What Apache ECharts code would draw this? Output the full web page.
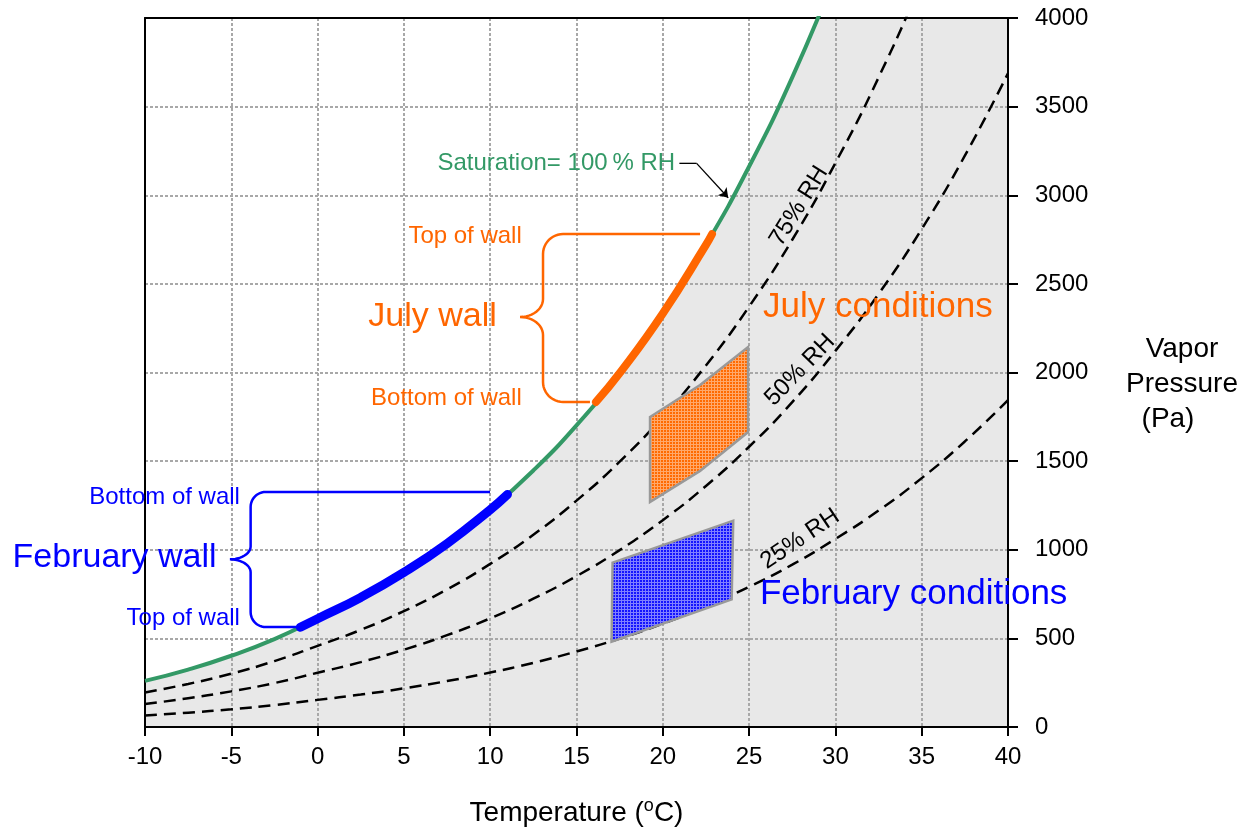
<!DOCTYPE html>
<html><head><meta charset="utf-8">
<script src="https://cdn.jsdelivr.net/npm/echarts@6/dist/echarts.min.js"></script>
<style>html,body{margin:0;padding:0;background:#fff}#c{width:1252px;height:833px}</style>
</head><body><div id="c"></div>
<script>
// ---------- data ----------
const temps      = [-10,-7.5,-5,-2.5,0,2.5,5,7.5,10,12.5,15,17.5,20,22.5,25,27.5,30,32.5,35,37.5,40];
const saturation = [260,324,402,496,611,731,872,1035,1226,1447,1702,1996,2333,2720,3162,3665,4243,4885,5617,6445,7375];
const rh75       = [195,243,301,372,458,548,654,776,920,1085,1277,1497,1750,2040,2372,2749,3182,3664,4213,4834,5531];
const rh50       = [130,162,201,248,306,366,436,518,613,724,851,998,1167,1360,1581,1833,2122,2443,2809,3223,3688];
const rh25       = [65,81,100,124,153,183,218,259,307,362,426,499,583,680,791,916,1061,1221,1404,1611,1844];

const julyWallT = [16.13,17.5,20,22.5,22.85];
const julyWallP = [1834,1996,2333,2720,2780];
const febWallT  = [-1,0,2.5,5,7.5,10,11];
const febWallP  = [563,611,731,872,1035,1226,1312];

const julyCondT = [19.26,22.16,24.94,24.94,22.16,19.26];
const julyCondP = [1749,1929,2144,1664,1445,1269];
const febCondT  = [17.09,24.08,23.99,17.03];
const febCondP  = [927,1164,720,481];

const xMin = -10, xMax = 40, xStep = 5;
const yMin = 0, yMax = 4000, yStep = 500;

const leaderT = [20.96,21.96,23.79];
const leaderP = [3180,3180,2986];

// brace anchors (data coords): top, bottom, mid (Pa); bar, tip, endTop, endBottom (°C)
const julyBrace = {top:2781, bottom:1834, mid:2313, bar:13.06, tip:11.73, endTop:22.16, endBottom:15.78};
const febBrace  = {top:1326, bottom:564,  mid:946,  bar:-3.88, tip:-5.08, endTop:9.99,  endBottom:-1.02};

const labelTexts = ['Saturation= 100\u2009% RH','Top of wall','July wall','Bottom of wall',
  'Bottom of wall','February wall','Top of wall','July conditions','February conditions',
  '75% RH','50% RH','25% RH'];
const labelT = [20.71,11.83,10.38,11.83,-4.5,-5.85,-4.5,25.81,25.63,27.89,27.95,27.95];
const labelP = [3180,2768,2313,1853,1294,957,613,2365,750,2939,2014,1060];

// ---------- styles ----------
const GREEN = '#339966', ORANGE = '#ff6600', BLUE = '#0000ff';
const FONT = '"Liberation Sans", Arial, Helvetica, sans-serif';
const labelStyle = [
  {color:GREEN,size:24,align:'right',rot:0},
  {color:ORANGE,size:24,align:'right',rot:0},
  {color:ORANGE,size:34,align:'right',rot:0},
  {color:ORANGE,size:24,align:'right',rot:0},
  {color:BLUE,size:24,align:'right',rot:0},
  {color:BLUE,size:34,align:'right',rot:0},
  {color:BLUE,size:24,align:'right',rot:0},
  {color:ORANGE,size:35,align:'left',rot:0},
  {color:BLUE,size:35,align:'left',rot:0},
  {color:'#000',size:24,align:'center',rot:58},
  {color:'#000',size:24,align:'center',rot:46},
  {color:'#000',size:24,align:'center',rot:34}
];

function hatch(bg, line){
  const c = document.createElement('canvas'); c.width = 3; c.height = 3;
  const g = c.getContext('2d');
  g.fillStyle = bg; g.fillRect(0,0,3,3);
  g.fillStyle = line; g.fillRect(0,0,3,1); g.fillRect(0,0,1,3);
  return c;
}
const orangeHatch = hatch('#ff6a00','#ffa86a');
const blueHatch = hatch('#1414ff','#8080ff');

const pairs = (xs, ys) => xs.map((x,i)=>[x, ys[i]]);

function polySeries(Ts, Ps, pattern){
  return {
    type:'custom', z:6, clip:false, silent:true,
    data:[[Ts[0],Ps[0]]],
    renderItem:(params, api)=>({
      type:'polygon',
      shape:{points: Ts.map((t,i)=>api.coord([t,Ps[i]]))},
      style:{fill:{image:pattern, repeat:'repeat'}, stroke:'#999999', lineWidth:2.5}
    })
  };
}

function arc(cx, cy, rx, ry, a0, a1, n){
  const out = [];
  for(let i=0;i<=n;i++){
    const a = (a0 + (a1-a0)*i/n) * Math.PI/180;
    out.push([cx + rx*Math.cos(a), cy + ry*Math.sin(a)]);
  }
  return out;
}
function braceSeries(b, color, r, r2){
  return {
    type:'custom', z:7, clip:false, silent:true,
    data:[[b.bar,b.mid]],
    renderItem:(params, api)=>{
      const [xeT, yT] = api.coord([b.endTop, b.top]);
      const [xeB, yB] = api.coord([b.endBottom, b.bottom]);
      const [xb, ym] = api.coord([b.bar, b.mid]);
      const xt = api.coord([b.tip, b.mid])[0];
      let pts = [[xeT, yT]];
      pts = pts.concat(arc(xb+r, yT+r, r, r, -90, -180, 12));
      pts = pts.concat(arc(xt, ym-r2, xb-xt, r2, 0, 90, 12));
      pts = pts.concat(arc(xt, ym+r2, xb-xt, r2, -90, 0, 12));
      pts = pts.concat(arc(xb+r, yB-r, r, r, 180, 90, 12));
      pts.push([xeB, yB]);
      return {type:'polyline', shape:{points:pts}, style:{stroke:color, lineWidth:2.5, fill:null}};
    }
  };
}

const chart = echarts.init(document.getElementById('c'), null, {renderer:'canvas'});
const option = {
  animation:false,
  backgroundColor:'#ffffff',
  textStyle:{fontFamily:FONT},
  grid:{left:145, right:244, top:18, bottom:106, containLabel:false},
  xAxis:[{
    type:'value', position:'bottom', min:xMin, max:xMax, interval:xStep,
    axisLine:{show:true, onZero:false, lineStyle:{color:'#000', width:2}},
    axisTick:{show:true, inside:false, length:9, lineStyle:{color:'#000', width:2}},
    axisLabel:{color:'#000', fontSize:24, margin:18, fontFamily:FONT, formatter:v=>String(v)},
    splitLine:{show:true, lineStyle:{color:'#a8a8a8', width:2, type:[3,2]}},
    name:'Temperature ({sup|o}C)', nameLocation:'middle', nameGap:70,
    nameTextStyle:{color:'#000', fontSize:28, fontFamily:FONT,
      rich:{sup:{fontSize:18, color:'#000', fontFamily:FONT, padding:[0,0,14,0]}}}
  },{
    type:'value', position:'top', min:xMin, max:xMax, interval:xStep,
    axisLine:{show:true, onZero:false, lineStyle:{color:'#000', width:2}},
    axisTick:{show:false}, axisLabel:{show:false}, splitLine:{show:false}
  }],
  yAxis:[{
    type:'value', position:'right', min:yMin, max:yMax, interval:yStep,
    axisLine:{show:true, onZero:false, lineStyle:{color:'#000', width:2}},
    axisTick:{show:true, inside:false, length:10, lineStyle:{color:'#000', width:2}},
    axisLabel:{color:'#000', fontSize:24, margin:27, fontFamily:FONT, formatter:v=>String(v)},
    splitLine:{show:true, lineStyle:{color:'#a8a8a8', width:2, type:[3,2]}},
    name:'{s|\u200b}\nVapor\nPressure\n(Pa)\u2003', nameLocation:'middle', nameRotate:0, nameGap:174,
    nameTextStyle:{color:'#000', fontSize:28, lineHeight:35, align:'center', fontFamily:FONT,
      rich:{s:{fontSize:10, lineHeight:24}}}
  },{
    type:'value', position:'left', min:yMin, max:yMax, interval:yStep,
    axisLine:{show:true, onZero:false, lineStyle:{color:'#000', width:2}},
    axisTick:{show:false}, axisLabel:{show:false}, splitLine:{show:false}
  }],
  series:[
    {type:'line', name:'area', z:-1, silent:true, smooth:true, symbol:'none',
      data:pairs(temps, saturation), lineStyle:{width:0},
      areaStyle:{color:'#e8e8e8', opacity:1}},
    {type:'line', name:'75% RH', z:3, smooth:true, symbol:'none', silent:true,
      data:pairs(temps, rh75), lineStyle:{color:'#000', width:2.5, type:[12,7]}},
    {type:'line', name:'50% RH', z:3, smooth:true, symbol:'none', silent:true,
      data:pairs(temps, rh50), lineStyle:{color:'#000', width:2.5, type:[12,7]}},
    {type:'line', name:'25% RH', z:3, smooth:true, symbol:'none', silent:true,
      data:pairs(temps, rh25), lineStyle:{color:'#000', width:2.5, type:[12,7]}},
    {type:'line', name:'Saturation', z:4, smooth:true, symbol:'none', silent:true,
      data:pairs(temps, saturation), lineStyle:{color:GREEN, width:4}},
    polySeries(julyCondT, julyCondP, orangeHatch),
    polySeries(febCondT, febCondP, blueHatch),
    {type:'line', name:'July wall', z:8, smooth:true, symbol:'none', silent:true,
      data:pairs(julyWallT, julyWallP), lineStyle:{color:ORANGE, width:8, cap:'round'}},
    {type:'line', name:'February wall', z:8, smooth:true, symbol:'none', silent:true,
      data:pairs(febWallT, febWallP), lineStyle:{color:BLUE, width:9, cap:'round'}},
    braceSeries(julyBrace, ORANGE, 20, 18),
    braceSeries(febBrace, BLUE, 15, 13),
    {type:'line', z:8, symbol:'none', silent:true, clip:false,
      data:pairs(leaderT.slice(0,2), leaderP.slice(0,2)), lineStyle:{color:'#000', width:1.3}},
    {type:'lines', coordinateSystem:'cartesian2d', z:8, silent:true,
      symbol:['none','arrow'], symbolSize:9,
      data:[{coords:[[leaderT[1],leaderP[1]],[leaderT[2],leaderP[2]]]}],
      lineStyle:{color:'#000', width:1.3, opacity:1}},
    {type:'scatter', z:10, silent:true, symbolSize:1, clip:false,
      itemStyle:{color:'rgba(0,0,0,0)', opacity:1},
      data:labelTexts.map((t,i)=>({
        value:[labelT[i], labelP[i]],
        label:{show:true, position:'inside', formatter:t, color:labelStyle[i].color, opacity:1,
          fontSize:labelStyle[i].size, fontFamily:FONT, align:labelStyle[i].align,
          verticalAlign:'middle', rotate:labelStyle[i].rot}
      }))}
  ]
};
chart.setOption(option);
</script>
</body></html>
